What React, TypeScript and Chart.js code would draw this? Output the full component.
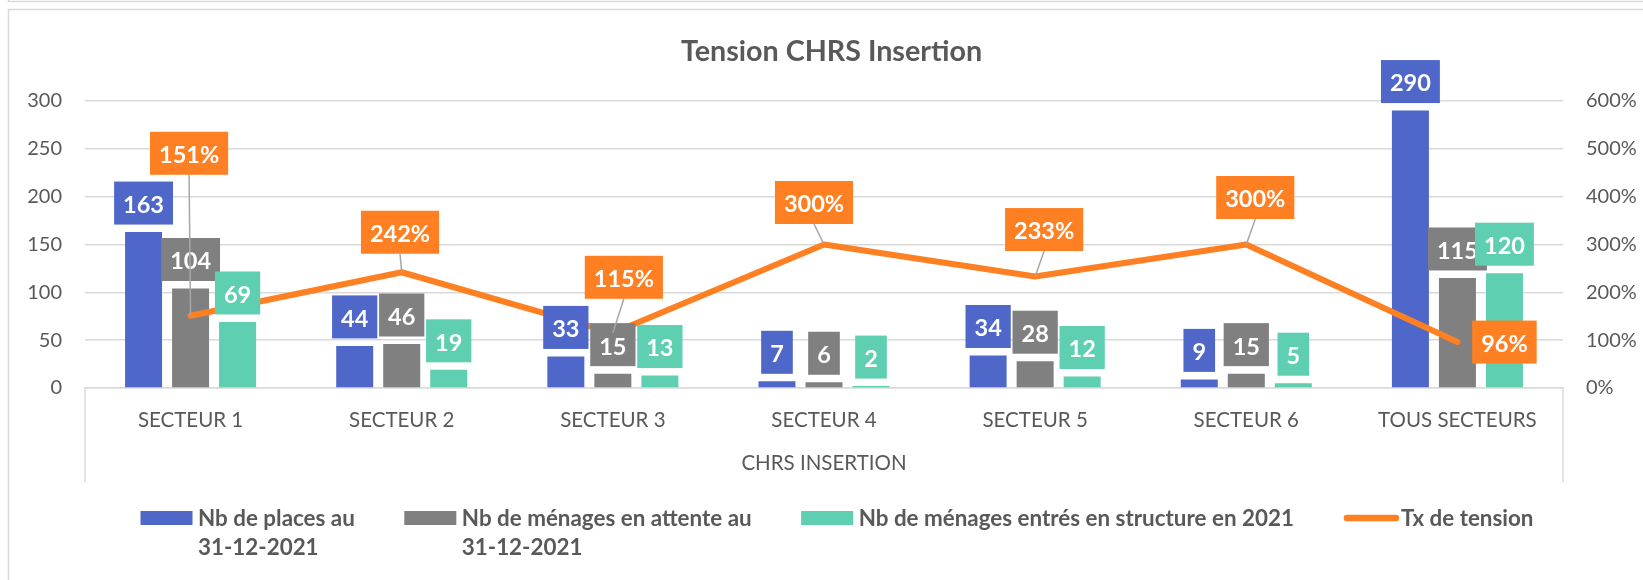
import React, { useEffect, useRef } from 'react';
import { Chart, registerables } from 'chart.js';

Chart.register(...registerables);

// ---------- data ----------
const chartTitle = 'Tension CHRS Insertion';
const outerCategory = 'CHRS INSERTION';
const categories = ['SECTEUR 1', 'SECTEUR 2', 'SECTEUR 3', 'SECTEUR 4', 'SECTEUR 5', 'SECTEUR 6', 'TOUS SECTEURS'];
const places = [163, 44, 33, 7, 34, 9, 290];
const attente = [104, 46, 15, 6, 28, 15, 115];
const entres = [69, 19, 13, 2, 12, 5, 120];
const tension = [1.51, 2.42, 1.15, 3.0, 2.33, 3.0, 0.96];
const seriesNames = [
  'Nb de places au 31-12-2021',
  'Nb de ménages en attente au 31-12-2021',
  'Nb de ménages entrés en structure en 2021',
  'Tx de tension',
];
const legendLines = [
  ['Nb de places au', '31-12-2021'],
  ['Nb de ménages en attente au', '31-12-2021'],
  ['Nb de ménages entrés en structure en 2021'],
  ['Tx de tension'],
];
const leftAxis = { min: 0, max: 300, step: 50 };
const rightAxis = { min: 0, max: 6, step: 1 };

// ---------- style ----------
const FONT = 'Lato';
const TEXT = '#595959';
const GRID = '#d9d9d9';
const COLORS = ['#4e67c8', '#808080', '#5ecfb0', '#fe8022'];
// manual label placement for the line (box centre offset from the point, px) as Excel had them moved
const tensionLabelOffsets = [
  [-1.5, -162.5],
  [-1.7, -40],
  [11, -55.7],
  [-10, -42],
  [9, -47],
  [9, -47],
  [47, 0],
];
const tensionLeader = [true, true, true, true, true, true, false];

const LABEL_SIZE = 23.5;
const BOX_H = 43;
const PAD_X = 9;

function drawBox(ctx: CanvasRenderingContext2D, text: string, cx: number, cy: number, color: string) {
  ctx.font = `bold ${LABEL_SIZE}px ${FONT}`;
  const w = ctx.measureText(text).width + PAD_X * 2;
  ctx.fillStyle = color;
  ctx.fillRect(cx - w / 2, cy - BOX_H / 2, w, BOX_H);
  ctx.fillStyle = '#ffffff';
  ctx.textAlign = 'center';
  ctx.textBaseline = 'alphabetic';
  ctx.fillText(text, cx, cy + 1.5 + (0.7165 * LABEL_SIZE) / 2);
}

const labelPlugin = {
  id: 'boxLabels',
  afterDatasetsDraw(chart: any) {
    const ctx = chart.ctx as CanvasRenderingContext2D;
    ctx.save();
    // bar labels, outside end
    [0, 1, 2].forEach((di) => {
      const meta = chart.getDatasetMeta(di);
      const values = chart.data.datasets[di].data as number[];
      meta.data.forEach((el: any, i: number) => {
        drawBox(ctx, String(values[i]), el.x, el.y - 7.5 - BOX_H / 2, COLORS[di]);
      });
    });
    // line labels with leader lines
    const lm = chart.getDatasetMeta(3);
    const lv = chart.data.datasets[3].data as number[];
    lm.data.forEach((el: any, i: number) => {
      if (!tensionLeader[i]) return;
      const [dx, dy] = tensionLabelOffsets[i];
      ctx.strokeStyle = '#a6a6a6';
      ctx.lineWidth = 1.5;
      ctx.beginPath();
      ctx.moveTo(el.x + dx, el.y + dy + BOX_H / 2);
      ctx.lineTo(el.x, el.y);
      ctx.stroke();
    });
    lm.data.forEach((el: any, i: number) => {
      const [dx, dy] = tensionLabelOffsets[i];
      drawBox(ctx, Math.round(lv[i] * 100) + '%', el.x + dx, el.y + dy, COLORS[3]);
    });
    ctx.restore();
  },
};

const decorPlugin = {
  id: 'decor',
  beforeDraw(chart: any) {
    const ctx = chart.ctx as CanvasRenderingContext2D;
    const W = chart.width;
    const H = chart.height;
    ctx.save();
    ctx.fillStyle = '#ffffff';
    ctx.fillRect(0, 0, W, H);
    ctx.strokeStyle = GRID;
    ctx.lineWidth = 1.5;
    ctx.beginPath();
    ctx.moveTo(8.5, 0);
    ctx.lineTo(8.5, 1.5);
    ctx.lineTo(W, 1.5);
    ctx.moveTo(W, 9.5);
    ctx.lineTo(8.5, 9.5);
    ctx.lineTo(8.5, H);
    ctx.stroke();
    ctx.restore();
  },
  afterDraw(chart: any) {
    const ctx = chart.ctx as CanvasRenderingContext2D;
    const area = chart.chartArea;
    const xs = chart.scales.x;
    ctx.save();
    // category box verticals
    ctx.strokeStyle = GRID;
    ctx.lineWidth = 1.5;
    ctx.beginPath();
    ctx.moveTo(area.left, area.bottom);
    ctx.lineTo(area.left, xs.bottom);
    ctx.moveTo(area.right, area.bottom);
    ctx.lineTo(area.right, xs.bottom);
    ctx.stroke();

    // title
    ctx.fillStyle = TEXT;
    ctx.font = `bold 28.7px ${FONT}`;
    ctx.textAlign = 'center';
    ctx.textBaseline = 'alphabetic';
    ctx.fillText(chartTitle, 831.5, 60.5);

    // legend
    const LS = 22.4;
    ctx.font = `bold ${LS}px ${FONT}`;
    const SW = 52;
    const GAP_T = 5.5;
    const GAP_I = 49.5;
    const widths = legendLines.map((ls) => Math.max(...ls.map((l) => ctx.measureText(l).width)));
    const total = widths.reduce((a, w) => a + SW + GAP_T + w, 0) + GAP_I * (widths.length - 1);
    let x = 837 - total / 2;
    const base1 = 525.5;
    const lineH = 29;
    const midY = 518;
    ctx.textAlign = 'left';
    legendLines.forEach((ls, i) => {
      if (i < 3) {
        ctx.fillStyle = COLORS[i];
        ctx.fillRect(x, midY - 7, SW, 14);
      } else {
        ctx.strokeStyle = COLORS[3];
        ctx.lineWidth = 6.5;
        ctx.lineCap = 'round';
        ctx.beginPath();
        ctx.moveTo(x + 3.5, midY);
        ctx.lineTo(x + SW + 0.5, midY);
        ctx.stroke();
      }
      ctx.fillStyle = TEXT;
      ls.forEach((l, j) => ctx.fillText(l, x + SW + GAP_T, base1 + j * lineH));
      x += SW + GAP_T + widths[i] + GAP_I;
    });
    ctx.restore();
  },
};

export default function App() {
  const ref = useRef<HTMLCanvasElement | null>(null);
  useEffect(() => {
    if (!ref.current) return;
    Chart.defaults.font.family = FONT;
    const chart = new Chart(ref.current, {
      type: 'bar',
      data: {
        labels: categories,
        datasets: [
          { type: 'bar', label: seriesNames[0], data: places, backgroundColor: COLORS[0], yAxisID: 'y', order: 1, categoryPercentage: 0.668, barPercentage: 0.787 },
          { type: 'bar', label: seriesNames[1], data: attente, backgroundColor: COLORS[1], yAxisID: 'y', order: 1, categoryPercentage: 0.668, barPercentage: 0.787 },
          { type: 'bar', label: seriesNames[2], data: entres, backgroundColor: COLORS[2], yAxisID: 'y', order: 1, categoryPercentage: 0.668, barPercentage: 0.787 },
          {
            type: 'line', label: seriesNames[3], data: tension, yAxisID: 'y1', order: 0,
            borderColor: COLORS[3], backgroundColor: COLORS[3], borderWidth: 6,
            pointRadius: 0, borderCapStyle: 'round', borderJoinStyle: 'round', tension: 0,
          },
        ] as any,
      },
      options: {
        responsive: false,
        animation: false,
        events: [],
        layout: { padding: { top: 101, bottom: 98, left: 0, right: 0 } },
        plugins: { legend: { display: false }, title: { display: false }, tooltip: { enabled: false } },
        scales: {
          x: {
            offset: true,
            grid: { display: false, drawTicks: false },
            border: { display: true, color: GRID, width: 1.5 },
            ticks: { color: TEXT, font: { family: FONT, size: 20.5 }, padding: 20, maxRotation: 0, autoSkip: false },
            title: { display: true, text: outerCategory, color: TEXT, font: { family: FONT, size: 20.5 }, padding: { top: 0, bottom: 6 } },
            afterFit: (s: any) => { s.height = 94; },
          },
          y: {
            position: 'left', min: leftAxis.min, max: leftAxis.max,
            ticks: { stepSize: leftAxis.step, padding: 23, color: TEXT, font: { family: FONT, size: 20 } },
            grid: { color: GRID, lineWidth: 1.5, drawTicks: false },
            border: { display: false },
            afterFit: (s: any) => { s.width = 85; },
          },
          y1: {
            position: 'right', min: rightAxis.min, max: rightAxis.max,
            ticks: { stepSize: rightAxis.step, padding: 23, color: TEXT, font: { family: FONT, size: 20 }, callback: (v: any) => Math.round(Number(v) * 100) + '%' },
            grid: { display: false, drawTicks: false },
            border: { display: false },
            afterFit: (s: any) => { s.width = 80; },
          },
        },
      } as any,
      plugins: [decorPlugin, labelPlugin],
    });
    return () => chart.destroy();
  }, []);
  return (
    <div style={{ position: 'fixed', left: 0, top: 0, width: 1643, height: 580 }}>
      <canvas ref={ref} width={1643} height={580} style={{ display: 'block', width: 1643, height: 580 }} />
    </div>
  );
}
